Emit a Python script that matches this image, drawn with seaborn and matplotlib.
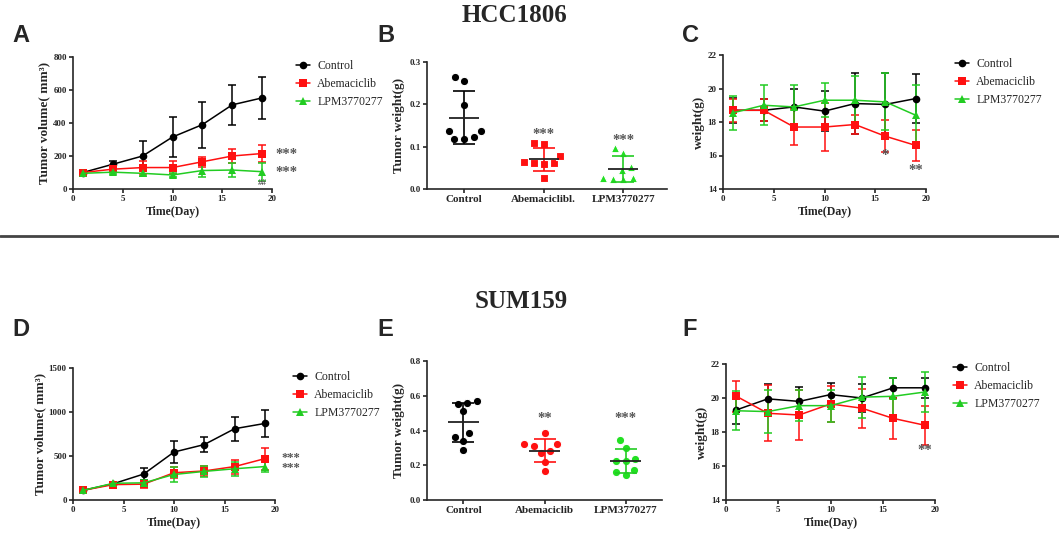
import numpy as np
import pandas as pd
import seaborn as sns
import matplotlib.pyplot as plt
from matplotlib.lines import Line2D

# ---- data ----
groups = ['Control', 'Abemaciclib', 'LPM3770277']
days = [1, 4, 7, 10, 13, 16, 19]

# HCC1806 tumor volume (mm3), mean and error
a_mean = {'Control': [100, 150, 200, 315, 390, 510, 552],
          'Abemaciclib': [100, 120, 130, 130, 165, 200, 215],
          'LPM3770277': [95, 102, 95, 85, 112, 115, 105]}
a_err = {'Control': [10, 20, 90, 122, 140, 120, 128],
         'Abemaciclib': [10, 15, 40, 40, 30, 45, 50],
         'LPM3770277': [10, 10, 15, 15, 40, 40, 55]}

# HCC1806 tumor weight (g), individual mice
b_control = [0.264, 0.256, 0.198, 0.137, 0.137, 0.118, 0.122, 0.118]
b_abema = [0.108, 0.106, 0.062, 0.060, 0.062, 0.063, 0.079, 0.025]
b_lpm = [0.098, 0.086, 0.045, 0.053, 0.023, 0.023, 0.025, 0.025]

# HCC1806 body weight (g)
c_mean = {'Control': [18.7, 18.7, 18.9, 18.65, 19.1, 19.05, 19.4],
          'Abemaciclib': [18.7, 18.7, 17.7, 17.7, 17.85, 17.15, 16.6],
          'LPM3770277': [18.55, 19.0, 18.9, 19.3, 19.3, 19.2, 18.4]}
c_err = {'Control': [0.75, 0.65, 1.1, 1.2, 1.8, 1.85, 1.45],
         'Abemaciclib': [0.7, 0.65, 1.1, 1.45, 0.55, 0.95, 0.9],
         'LPM3770277': [1.0, 1.2, 1.3, 1.0, 1.45, 1.7, 1.8]}

# SUM159 tumor volume (mm3)
d_mean = {'Control': [110, 185, 295, 545, 630, 810, 870],
          'Abemaciclib': [110, 175, 180, 310, 330, 380, 470],
          'LPM3770277': [110, 190, 195, 290, 325, 355, 380]}
d_err = {'Control': [10, 20, 65, 120, 90, 135, 155],
         'Abemaciclib': [10, 15, 40, 60, 60, 80, 125],
         'LPM3770277': [10, 15, 30, 80, 65, 80, 65]}

# SUM159 tumor weight (g)
e_control = [0.56, 0.555, 0.57, 0.51, 0.385, 0.365, 0.34, 0.285]
e_abema = [0.385, 0.31, 0.32, 0.32, 0.28, 0.27, 0.22, 0.165]
e_lpm = [0.345, 0.30, 0.235, 0.225, 0.225, 0.175, 0.145, 0.16]

# SUM159 body weight (g)
f_mean = {'Control': [19.3, 19.95, 19.8, 20.2, 20.0, 20.6, 20.6],
          'Abemaciclib': [20.1, 19.1, 19.0, 19.65, 19.4, 18.8, 18.4],
          'LPM3770277': [19.25, 19.2, 19.55, 19.55, 20.05, 20.1, 20.35]}
f_err = {'Control': [0.85, 0.85, 0.85, 0.7, 0.85, 0.6, 0.6],
         'Abemaciclib': [0.9, 1.65, 1.45, 1.05, 1.15, 1.2, 1.15],
         'LPM3770277': [1.15, 1.25, 0.9, 0.95, 1.2, 1.1, 1.2]}

colors = {'Control': 'black', 'Abemaciclib': '#FF1010', 'LPM3770277': '#22CC22'}
scatter_colors = {'Control': 'black', 'Abemaciclib': '#FF1010', 'LPM3770277': '#22E022'}
markers = {'Control': 'o', 'Abemaciclib': 's', 'LPM3770277': '^'}

sns.set_style('ticks')
plt.rcParams['font.family'] = ['Liberation Serif', 'DejaVu Serif']
plt.rcParams['axes.linewidth'] = 1.2
plt.rcParams['xtick.major.width'] = 1.2
plt.rcParams['ytick.major.width'] = 1.2
plt.rcParams['xtick.major.size'] = 3
plt.rcParams['ytick.major.size'] = 3

W, H = 1059, 540
fig = plt.figure(figsize=(W / 100, H / 100), dpi=100)


def px_axes(l, t, r, b):
    return fig.add_axes([l / W, 1 - b / H, (r - l) / W, (b - t) / H])


def style_axes(ax, xsize=6.5):
    sns.despine(ax=ax)
    ax.tick_params(axis='y', labelsize=6.5, pad=1.5)
    ax.tick_params(axis='x', labelsize=xsize, pad=1.5)
    for lab in ax.get_xticklabels() + ax.get_yticklabels():
        lab.set_fontweight('bold')


def line_panel(ax, means, errs, ylim, yticks, ylabel, leg_xy):
    rows = []
    for g in groups:
        for d, v in zip(days, means[g]):
            rows.append({'day': d, 'value': v, 'group': g})
    df = pd.DataFrame(rows)
    for g in groups:
        ax.errorbar(days, means[g], yerr=errs[g], fmt='none', ecolor=colors[g],
                    elinewidth=1.1, capsize=2.8, capthick=1.1, zorder=2)
    sns.lineplot(data=df, x='day', y='value', hue='group', style='group',
                 hue_order=groups, style_order=groups, palette=colors,
                 markers=markers, dashes=False, markersize=5.5, linewidth=1.1,
                 markeredgewidth=0, ax=ax, zorder=3)
    ax.set_xlim(0, 20)
    ax.set_xticks([0, 5, 10, 15, 20])
    ax.set_ylim(*ylim)
    ax.set_yticks(yticks)
    ax.set_xlabel('Time(Day)', fontsize=8.5, fontweight='bold', labelpad=2)
    ax.set_ylabel(ylabel, fontsize=9.5, fontweight='bold', labelpad=2)
    handles = [Line2D([], [], color=colors[g], marker=markers[g], markersize=5.5,
                      linewidth=1.1, markeredgewidth=0) for g in groups]
    ax.legend(handles, groups, loc='upper left', frameon=False,
              bbox_to_anchor=(leg_xy[0] / W, 1 - leg_xy[1] / H),
              bbox_transform=fig.transFigure, fontsize=8.5, handlelength=1.2,
              handletextpad=0.6, labelspacing=0.5, borderpad=0, borderaxespad=0)
    style_axes(ax)


def scatter_panel(ax, values, mk, ylim, yticks, ticklabels, xlim):
    rows = []
    for g, vals in zip(groups, values):
        for v in vals:
            rows.append({'group': g, 'weight': v})
    df = pd.DataFrame(rows)
    for g in groups:
        sub = df[df['group'] == g]
        # thin white rim keeps neighbouring markers apart
        sns.swarmplot(data=sub, x='group', y='weight', order=groups,
                      color=scatter_colors[g], marker=mk[g], size=6.0,
                      edgecolor='white', linewidth=0.8, ax=ax, zorder=3)
    stats = df.groupby('group')['weight'].agg(['mean', 'std']).reindex(groups)
    for i, g in enumerate(groups):
        m, s = stats.loc[g, 'mean'], stats.loc[g, 'std']
        ax.errorbar([i], [m], yerr=[s], fmt='none', ecolor=colors[g],
                    elinewidth=1.2, capsize=8, capthick=1.2, zorder=4)
        ax.hlines(m, i - 0.19, i + 0.19, color='#222222', linewidth=1.3, zorder=5)
    ax.set_xlim(*xlim)
    ax.set_ylim(*ylim)
    ax.set_yticks(yticks)
    ax.set_xticks(range(3))
    ax.set_xticklabels(ticklabels)
    ax.set_xlabel('')
    ax.set_ylabel('Tumor weight(g)', fontsize=9.5, fontweight='bold', labelpad=3)
    style_axes(ax, xsize=8)


def star(ax, x, y, s, size=10.5):
    ax.text(x, y, s, color='#555555', fontsize=size, ha='center', va='center',
            fontweight='bold')


# ---- HCC1806 ----
axA = px_axes(73, 57, 272, 189)
line_panel(axA, a_mean, a_err, (0, 800), [0, 200, 400, 600, 800],
           'Tumor volume( mm³)', (296, 60))
star(axA, 21.5, 208, '***')
star(axA, 21.5, 98, '***')
star(axA, 19.0, 38, '##', size=6.5)

axB = px_axes(427, 62, 667, 189)
scatter_panel(axB, [b_control, b_abema, b_lpm], markers, (0, 0.3),
              [0.0, 0.1, 0.2, 0.3], ['Control', 'Abemaciclibl.', 'LPM3770277'],
              (-0.47, 2.55))
star(axB, 1, 0.128, '***')
star(axB, 2, 0.114, '***')

axC = px_axes(723, 55, 926, 189)
line_panel(axC, c_mean, c_err, (14, 22), [14, 16, 18, 20, 22],
           'weight(g)', (955, 58))
star(axC, 16, 16.0, '*')
star(axC, 19, 15.1, '**')

# ---- SUM159 ----
axD = px_axes(73, 368, 275, 500)
line_panel(axD, d_mean, d_err, (0, 1500), [0, 500, 1000, 1500],
           'Tumor volume( mm³)', (293, 371))
star(axD, 21.6, 478, '***', size=9)
star(axD, 21.6, 362, '***', size=9)

axE = px_axes(427, 361, 662, 500)
scatter_panel(axE, [e_control, e_abema, e_lpm],
              {g: 'o' for g in groups}, (0, 0.8), [0.0, 0.2, 0.4, 0.6, 0.8],
              groups, (-0.45, 2.45))
star(axE, 1, 0.47, '**')
star(axE, 2, 0.47, '***')

axF = px_axes(726, 364, 935, 500)
line_panel(axF, f_mean, f_err, (14, 22), [14, 16, 18, 20, 22],
           'weight(g)', (953, 362))
star(axF, 19, 16.9, '**')

# ---- titles, panel letters, divider ----
fig.text(514 / W, 1 - 16 / H, 'HCC1806', fontsize=18, fontweight='bold',
         ha='center', va='center')
fig.text(521 / W, 1 - 302 / H, 'SUM159', fontsize=18, fontweight='bold',
         ha='center', va='center')
for letter, x, y in [('A', 12, 35), ('B', 377, 35), ('C', 682, 35),
                     ('D', 12, 330), ('E', 377, 330), ('F', 682, 330)]:
    fig.text(x / W, 1 - y / H, letter, fontsize=17, fontweight='bold',
             family=['Liberation Sans', 'DejaVu Sans'], ha='left', va='center')
fig.add_artist(Line2D([0, 1], [1 - 236 / H, 1 - 236 / H], color='#444444',
                      linewidth=2, transform=fig.transFigure))

fig.savefig('out.png', dpi=100)
